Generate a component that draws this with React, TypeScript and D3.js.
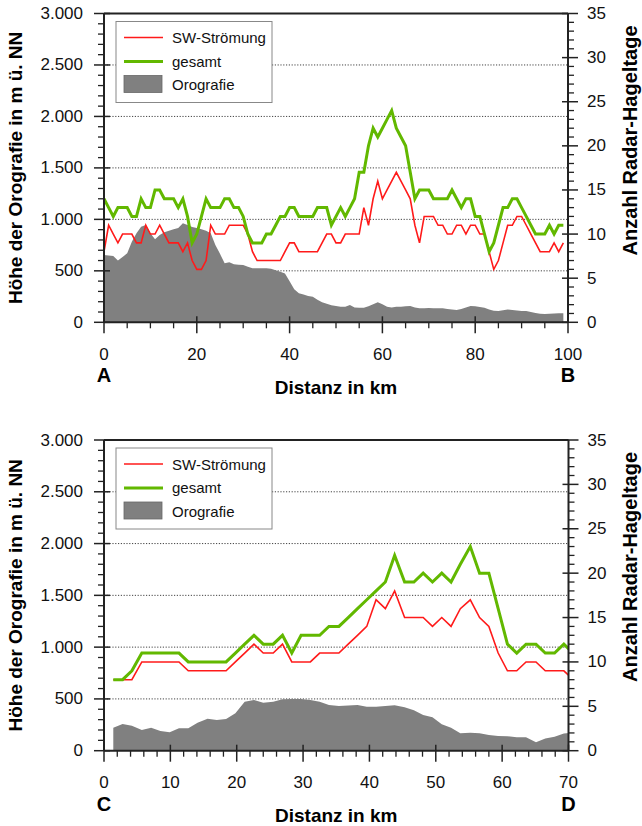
import React from "react";
import * as d3 from "d3";

// ---------- Data: upper profile A-B ----------
const topDistance = [
  0, 1, 2, 3, 4, 5, 6, 7, 8, 9, 10, 11, 12, 13, 14, 15, 16, 17, 18, 19,
  20, 21, 22, 23, 24, 25, 26, 27, 28, 29, 30, 31, 32, 33, 34, 35, 36, 37, 38, 39,
  40, 41, 42, 43, 44, 45, 46, 47, 48, 49, 50, 51, 52, 53, 54, 55, 56, 57, 58, 59,
  60, 61, 62, 63, 64, 65, 66, 67, 68, 69, 70, 71, 72, 73, 74, 75, 76, 77, 78, 79,
  80, 81, 82, 83, 84, 85, 86, 87, 88, 89, 90, 91, 92, 93, 94, 95, 96, 97, 98, 99,
];
const topSW = [
  8, 11, 10, 9, 10, 10, 10, 9, 9, 11, 10, 10, 11, 10, 9, 9, 9, 8, 9, 7,
  6, 6, 7, 11, 10, 10, 10, 11, 11, 11, 11, 10, 8, 7, 7, 7, 7, 7, 7, 8,
  9, 9, 8, 8, 8, 8, 8, 9, 10, 10, 9, 9, 10, 10, 10, 10, 13, 11, 14, 16,
  14, 15, 16, 17, 16, 15, 14, 11, 9, 12, 12, 12, 11, 11, 10, 10, 11, 11, 10, 11,
  11, 10, 10, 8, 6, 7, 9, 11, 11, 12, 12, 11, 10, 9, 8, 8, 8, 9, 8, 9,
];
const topGesamt = [
  14, 13, 12, 13, 13, 13, 12, 12, 14, 13, 13, 15, 15, 14, 14, 14, 13, 14, 12, 9,
  10, 12, 14, 13, 13, 13, 14, 14, 13, 13, 12, 10, 9, 9, 9, 10, 10, 11, 12, 12,
  13, 13, 12, 12, 12, 12, 13, 13, 13, 11, 12, 13, 12, 13, 14, 17, 17, 20, 22, 21,
  22, 23, 24, 22, 21, 20, 17, 14, 15, 15, 15, 14, 14, 14, 14, 15, 14, 13, 14, 14,
  12, 12, 10, 8, 9, 11, 13, 13, 14, 14, 13, 12, 11, 10, 10, 10, 11, 10, 11, 11,
];
const topOrografie = [
  654, 650, 644, 600, 635, 670, 783, 865, 929, 945, 865, 806, 848, 875, 890, 905, 915, 962, 945, 925,
  915, 905, 890, 865, 750, 665, 573, 583, 563, 560, 557, 540, 525, 525, 525, 525, 520, 505, 492, 475,
  400, 320, 282, 270, 255, 249, 220, 195, 180, 165, 158, 150, 150, 168, 145, 142, 142, 155, 175, 194,
  175, 150, 145, 150, 152, 155, 158, 145, 136, 136, 140, 136, 136, 136, 130, 125, 120, 130, 145, 158,
  155, 148, 142, 125, 112, 110, 118, 125, 120, 115, 110, 110, 100, 90, 82, 81, 82, 85, 87, 87,
];

// ---------- Data: lower profile C-D ----------
const bottomDistance = [
  1.4, 2.8, 4.2, 5.7, 7.1, 8.5, 9.9, 11.3, 12.7, 14.1,
  15.6, 17.0, 18.4, 19.8, 21.2, 22.6, 24.0, 25.5, 26.9, 28.3,
  29.7, 31.1, 32.5, 33.9, 35.4, 36.8, 38.2, 39.6, 41.0, 42.4,
  43.8, 45.3, 46.7, 48.1, 49.5, 50.9, 52.3, 53.7, 55.2, 56.6,
  58.0, 59.4, 60.8, 62.2, 63.6, 65.1, 66.5, 67.9, 69.3, 70.7,
];
const bottomSW = [
  8, 8, 8, 10, 10, 10, 10, 10, 9, 9,
  9, 9, 9, 10, 11, 12, 11, 11, 12, 10,
  10, 10, 11, 11, 11, 12, 13, 14, 17, 16,
  18, 15, 15, 15, 14, 15, 14, 16, 17, 15,
  14, 11, 9, 9, 10, 10, 9, 9, 9, 8,
];
const bottomGesamt = [
  8, 8, 9, 11, 11, 11, 11, 11, 10, 10,
  10, 10, 10, 11, 12, 13, 12, 12, 13, 11,
  13, 13, 13, 14, 14, 15, 16, 17, 18, 19,
  22, 19, 19, 20, 19, 20, 19, 21, 23, 20,
  20, 16, 12, 11, 12, 12, 11, 11, 12, 11,
];
const bottomOrografie = [
  222, 258, 242, 200, 222, 190, 177, 216, 216, 270,
  309, 296, 306, 361, 473, 489, 464, 473, 496, 498,
  499, 490, 473, 441, 432, 436, 441, 425, 425, 432,
  438, 420, 390, 345, 322, 255, 222, 168, 174, 168,
  151, 142, 140, 129, 129, 81, 119, 135, 165, 175,
];

// ---------- Axis labels ----------
const leftTicks = [0, 500, 1000, 1500, 2000, 2500, 3000];
const leftTickLabels = ["0", "500", "1.000", "1.500", "2.000", "2.500", "3.000"];
const rightTicks = [0, 5, 10, 15, 20, 25, 30, 35];
const topXTicks = [0, 20, 40, 60, 80, 100];
const bottomXTicks = [0, 10, 20, 30, 40, 50, 60, 70];
const legendLabels = ["SW-Strömung", "gesamt", "Orografie"];

const FONT = "'Liberation Sans', Arial, Helvetica, sans-serif";
const RED = "#ff1a1a";
const GREEN = "#62b800";
const GRAY = "#808080";
const AXIS = "#222";

type PanelProps = {
  id: string;
  top: number;
  bottom: number;
  right: number;
  xMax: number;
  xMajor: number[];
  xMinorStep: number;
  distance: number[];
  sw: number[];
  gesamt: number[];
  oro: number[];
  startLetter: string;
  endLetter: string;
};

function Panel(p: PanelProps) {
  const left = 104;
  const x = d3.scaleLinear().domain([0, p.xMax]).range([left, p.right]);
  const yL = d3.scaleLinear().domain([0, 3000]).range([p.bottom, p.top]);
  const yR = d3.scaleLinear().domain([0, 35]).range([p.bottom, p.top]);

  const oroArea = d3
    .area<number>()
    .x((_, i) => x(p.distance[i]))
    .y0(yL(0))
    .y1((d) => yL(d));
  const lineR = d3
    .line<number>()
    .x((_, i) => x(p.distance[i]))
    .y((d) => yR(d));

  const leftMinor = d3.range(0, 3001, 100).filter((v) => v % 500 !== 0);
  const rightMinor = d3.range(0, 36, 1).filter((v) => v % 5 !== 0);
  const xMinor = d3
    .range(0, p.xMax + 0.001, p.xMinorStep)
    .filter((v) => !p.xMajor.includes(v));

  const clipId = `clip-${p.id}`;
  const midY = (p.top + p.bottom) / 2;
  const midX = (left + p.right) / 2;
  const ly = p.top;

  return (
    <g>
      <defs>
        <clipPath id={clipId}>
          <rect x={left} y={p.top} width={p.right - left} height={p.bottom - p.top} />
        </clipPath>
      </defs>
      {/* gridlines */}
      {leftTicks.slice(1, -1).map((t) => (
        <line
          key={`g${t}`}
          x1={left}
          x2={p.right}
          y1={yL(t)}
          y2={yL(t)}
          stroke="#444"
          strokeWidth={1}
          strokeDasharray="1.2,1.6"
        />
      ))}
      <g clipPath={`url(#${clipId})`}>
        <path d={oroArea(p.oro) || ""} fill={GRAY} />
        <path d={lineR(p.sw) || ""} fill="none" stroke={RED} strokeWidth={1.6} strokeLinejoin="miter" />
        <path d={lineR(p.gesamt) || ""} fill="none" stroke={GREEN} strokeWidth={3} strokeLinejoin="miter" />
      </g>
      {/* frame */}
      <line x1={left} x2={p.right} y1={p.top} y2={p.top} stroke={AXIS} strokeWidth={2} />
      <line x1={left} x2={p.right} y1={p.bottom} y2={p.bottom} stroke={AXIS} strokeWidth={2} />
      <line x1={left} x2={left} y1={p.top} y2={p.bottom} stroke={AXIS} strokeWidth={2} />
      <line x1={p.right} x2={p.right} y1={p.top} y2={p.bottom} stroke={AXIS} strokeWidth={2} />
      {/* left ticks */}
      {leftTicks.map((t, i) => (
        <g key={`lt${t}`}>
          <line x1={left - 10} x2={left + 6} y1={yL(t)} y2={yL(t)} stroke={AXIS} strokeWidth={1.5} />
          <text
            x={83}
            y={yL(t)}
            textAnchor="end"
            dominantBaseline="central"
            fontSize={17}
            fontFamily={FONT}
            fill="#111"
          >
            {leftTickLabels[i]}
          </text>
        </g>
      ))}
      {leftMinor.map((t) => (
        <line key={`lm${t}`} x1={left - 6} x2={left} y1={yL(t)} y2={yL(t)} stroke={AXIS} strokeWidth={1.3} />
      ))}
      {/* right ticks */}
      {rightTicks.map((t) => (
        <g key={`rt${t}`}>
          <line x1={p.right - 6} x2={p.right + 10} y1={yR(t)} y2={yR(t)} stroke={AXIS} strokeWidth={1.5} />
          <text
            x={p.right + 19}
            y={yR(t)}
            textAnchor="start"
            dominantBaseline="central"
            fontSize={17}
            fontFamily={FONT}
            fill="#111"
          >
            {t}
          </text>
        </g>
      ))}
      {rightMinor.map((t) => (
        <line key={`rm${t}`} x1={p.right} x2={p.right + 6} y1={yR(t)} y2={yR(t)} stroke={AXIS} strokeWidth={1.3} />
      ))}
      {/* x ticks */}
      {p.xMajor.map((t) => (
        <g key={`xt${t}`}>
          <line x1={x(t)} x2={x(t)} y1={p.bottom - 6} y2={p.bottom + 11} stroke={AXIS} strokeWidth={1.5} />
          <text
            x={x(t)}
            y={p.bottom + 32}
            textAnchor="middle"
            dominantBaseline="central"
            fontSize={17}
            fontFamily={FONT}
            fill="#111"
          >
            {t}
          </text>
        </g>
      ))}
      {xMinor.map((t) => (
        <line key={`xm${t}`} x1={x(t)} x2={x(t)} y1={p.bottom} y2={p.bottom + 6} stroke={AXIS} strokeWidth={1.3} />
      ))}
      {/* letters & axis titles */}
      <text x={x(0)} y={p.bottom + 53} textAnchor="middle" dominantBaseline="central" fontSize={20} fontWeight="bold" fontFamily={FONT}>
        {p.startLetter}
      </text>
      <text x={x(p.xMax)} y={p.bottom + 53} textAnchor="middle" dominantBaseline="central" fontSize={20} fontWeight="bold" fontFamily={FONT}>
        {p.endLetter}
      </text>
      <text x={midX} y={p.bottom + 65} textAnchor="middle" dominantBaseline="central" fontSize={19} fontWeight="bold" fontFamily={FONT}>
        Distanz in km
      </text>
      <text
        transform={`translate(15,${midY}) rotate(-90)`}
        textAnchor="middle"
        dominantBaseline="central"
        fontSize={19}
        fontWeight="bold"
        fontFamily={FONT}
      >
        Höhe der Orografie in m ü. NN
      </text>
      <text
        transform={`translate(630,${p.top + 127}) rotate(-90)`}
        textAnchor="middle"
        dominantBaseline="central"
        fontSize={20}
        fontWeight="bold"
        fontFamily={FONT}
      >
        Anzahl Radar-Hageltage
      </text>
      {/* legend */}
      <rect x={116} y={ly + 8} width={156} height={81} fill="white" stroke="#888" strokeWidth={1} />
      <line x1={124} x2={163} y1={ly + 24} y2={ly + 24} stroke={RED} strokeWidth={1.6} />
      <line x1={124} x2={163} y1={ly + 48} y2={ly + 48} stroke={GREEN} strokeWidth={3} />
      <rect x={124} y={ly + 62} width={38} height={17} fill={GRAY} stroke="#666" strokeWidth={0.8} />
      {legendLabels.map((l, i) => (
        <text
          key={l}
          x={172}
          y={ly + 24 + i * 23.5}
          dominantBaseline="central"
          fontSize={15}
          fontFamily={FONT}
          fill="#111"
        >
          {l}
        </text>
      ))}
    </g>
  );
}

export default function App() {
  return (
    <svg
      width={642}
      height={826}
      style={{ position: "absolute", left: 0, top: 0, background: "white" }}
    >
      <rect width={642} height={826} fill="white" />
      <Panel
        id="top"
        top={13.5}
        bottom={322.3}
        right={568}
        xMax={100}
        xMajor={topXTicks}
        xMinorStep={5}
        distance={topDistance}
        sw={topSW}
        gesamt={topGesamt}
        oro={topOrografie}
        startLetter="A"
        endLetter="B"
      />
      <Panel
        id="bottom"
        top={440}
        bottom={750.7}
        right={568.5}
        xMax={70}
        xMajor={bottomXTicks}
        xMinorStep={2}
        distance={bottomDistance}
        sw={bottomSW}
        gesamt={bottomGesamt}
        oro={bottomOrografie}
        startLetter="C"
        endLetter="D"
      />
    </svg>
  );
}
